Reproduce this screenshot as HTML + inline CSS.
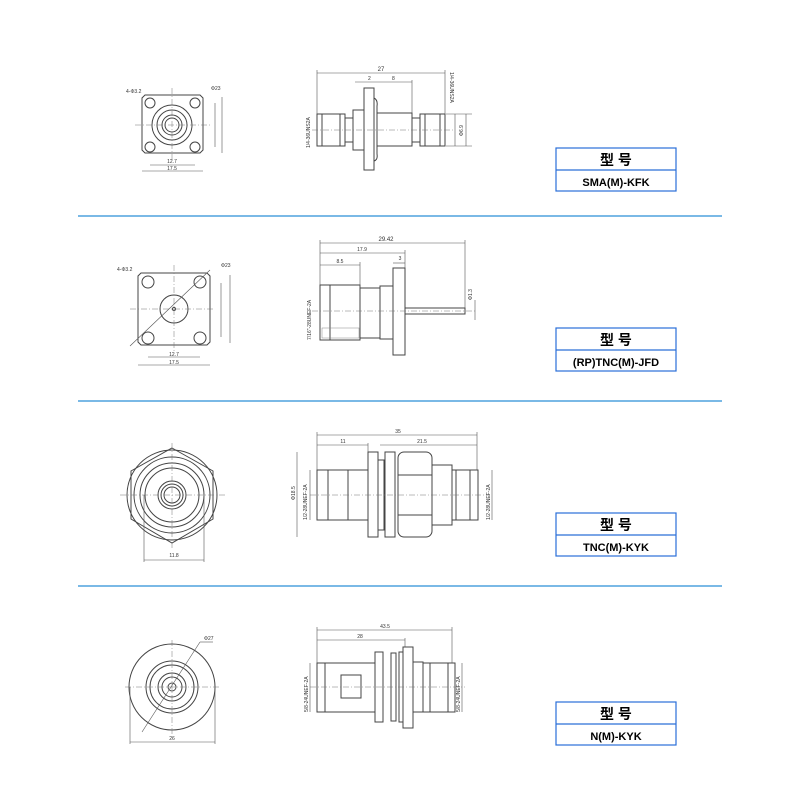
<!DOCTYPE html>
<html><head><meta charset="utf-8"><style>
html,body{margin:0;padding:0;background:#fff;}
svg{display:block}
text{font-family:"Liberation Sans",sans-serif;fill:#333;}
.b{fill:none;stroke:#444;stroke-width:1}
.t{fill:none;stroke:#555;stroke-width:0.6}
.c{stroke:#777;stroke-width:0.5;stroke-dasharray:6 2 1 2}
.tb text{font-family:"Liberation Sans","Noto Sans CJK SC",sans-serif;fill:#000;font-weight:bold}
</style></head><body>
<svg width="800" height="800" viewBox="0 0 800 800" xmlns="http://www.w3.org/2000/svg">
<g stroke="#2a8fd8" stroke-width="1.2">
<line x1="78" y1="216" x2="722" y2="216"/><line x1="78" y1="401" x2="722" y2="401"/><line x1="78" y1="586" x2="722" y2="586"/>
</g>
<!-- title boxes -->
<g class="tb">
<g fill="none" stroke="#2a6fd8" stroke-width="1.2">
<rect x="556" y="148" width="120" height="43"/><line x1="556" y1="170" x2="676" y2="170"/>
<rect x="556" y="328" width="120" height="43"/><line x1="556" y1="350" x2="676" y2="350"/>
<rect x="556" y="513" width="120" height="43"/><line x1="556" y1="535" x2="676" y2="535"/>
<rect x="556" y="702" width="120" height="43"/><line x1="556" y1="724" x2="676" y2="724"/>
</g>
<g font-size="14" text-anchor="middle">
<text x="616" y="165">型 号</text><text x="616" y="345">型 号</text><text x="616" y="530">型 号</text><text x="616" y="719">型 号</text>
</g>
<g font-size="11" text-anchor="middle">
<text x="616" y="186">SMA(M)-KFK</text><text x="616" y="366">(RP)TNC(M)-JFD</text><text x="616" y="551">TNC(M)-KYK</text><text x="616" y="740">N(M)-KYK</text>
</g>
</g>

<!-- Row1 front -->
<g>
<path class="b" d="M145 95 H200 L203 98 V150 L200 153 H145 L142 150 V98 Z"/>
<circle class="b" cx="172" cy="125" r="20"/><circle class="b" cx="172" cy="125" r="15"/><circle class="b" cx="172" cy="125" r="10"/><circle class="b" cx="172" cy="125" r="7"/>
<circle class="b" cx="150" cy="103" r="5"/><circle class="b" cx="195" cy="103" r="5"/><circle class="b" cx="150" cy="147" r="5"/><circle class="b" cx="195" cy="147" r="5"/>
<line class="c" x1="135" y1="125" x2="210" y2="125"/><line class="c" x1="172" y1="88" x2="172" y2="160"/>
<line class="t" x1="150" y1="165" x2="195" y2="165"/><line class="t" x1="142" y1="171" x2="203" y2="171"/>
<line class="t" x1="215" y1="103" x2="215" y2="147"/><line class="t" x1="222" y1="97" x2="222" y2="153"/>
<text x="172" y="163" font-size="5" text-anchor="middle">12.7</text><text x="172" y="170" font-size="5" text-anchor="middle">17.5</text>
<text x="126" y="93" font-size="5">4-Φ3.2</text><text x="211" y="90" font-size="5">Φ23</text>
</g>
<!-- Row1 side -->
<g>
<rect class="b" x="317" y="114" width="28" height="32"/><rect class="b" x="322" y="114" width="18" height="32"/>
<rect class="b" x="345" y="118" width="8" height="24"/>
<rect class="b" x="353" y="110" width="11" height="40"/>
<rect class="b" x="364" y="88" width="10" height="82"/>
<path class="b" d="M374 98 Q378 100 377 106 V154 Q378 160 374 161"/>
<rect class="b" x="377" y="113" width="35" height="33"/>
<rect class="b" x="412" y="118" width="8" height="24"/>
<rect class="b" x="420" y="114" width="25" height="32"/><rect class="b" x="425" y="114" width="15" height="32"/>
<line class="c" x1="312" y1="130" x2="455" y2="130"/>
<line class="t" x1="317" y1="73" x2="445" y2="73"/><line class="t" x1="317" y1="70" x2="317" y2="114"/><line class="t" x1="445" y1="70" x2="445" y2="114"/>
<line class="t" x1="355" y1="82" x2="412" y2="82"/><line class="t" x1="412" y1="80" x2="412" y2="113"/>
<line class="t" x1="446" y1="114" x2="472" y2="114"/><line class="t" x1="446" y1="146" x2="472" y2="146"/><line class="t" x1="455" y1="114" x2="455" y2="146"/><line class="t" x1="466" y1="114" x2="466" y2="146"/>
<text x="381" y="71" font-size="6" text-anchor="middle">27</text><text x="368" y="80" font-size="5">2</text><text x="392" y="80" font-size="5">8</text>
<text transform="translate(310,148) rotate(-90)" font-size="5">1/4-36UNS2A</text>
<text transform="translate(450,72) rotate(90)" font-size="5">1/4-36UNS2A</text>
<text transform="translate(463,136) rotate(-90)" font-size="5">Φ6.9</text>
</g>

<!-- Row2 front -->
<g>
<path class="b" d="M141 273 H207 L210 276 V342 L207 345 H141 L138 342 V276 Z"/>
<circle class="b" cx="174" cy="309" r="14"/><circle class="b" cx="174" cy="309" r="1.5"/>
<circle class="b" cx="148" cy="282" r="6"/><circle class="b" cx="200" cy="282" r="6"/><circle class="b" cx="148" cy="338" r="6"/><circle class="b" cx="200" cy="338" r="6"/>
<line class="c" x1="130" y1="309" x2="215" y2="309"/><line class="c" x1="174" y1="265" x2="174" y2="352"/>
<line class="t" x1="130" y1="346" x2="210" y2="270"/>
<line class="t" x1="148" y1="357" x2="200" y2="357"/><line class="t" x1="138" y1="365" x2="210" y2="365"/>
<line class="t" x1="221" y1="283" x2="221" y2="337"/><line class="t" x1="230" y1="275" x2="230" y2="343"/>
<text x="174" y="356" font-size="5" text-anchor="middle">12.7</text><text x="174" y="364" font-size="5" text-anchor="middle">17.5</text>
<text x="117" y="271" font-size="5">4-Φ3.2</text><text x="221" y="267" font-size="5">Φ23</text>
</g>
<!-- Row2 side -->
<g>
<rect class="b" x="320" y="285" width="40" height="55"/><line class="b" x1="330" y1="285" x2="330" y2="340"/>
<rect class="b" x="360" y="288" width="20" height="50"/><rect class="b" x="380" y="286" width="13" height="53"/>
<rect class="b" x="393" y="268" width="12" height="87"/>
<rect class="b" x="405" y="308" width="60" height="6"/>
<rect x="322" y="328" width="37" height="10" fill="none" stroke="#888" stroke-width="0.5"/>
<line class="c" x1="312" y1="311" x2="475" y2="311"/>
<line class="t" x1="320" y1="243" x2="465" y2="243"/><line class="t" x1="320" y1="253" x2="405" y2="253"/><line class="t" x1="320" y1="265" x2="360" y2="265"/><line class="t" x1="393" y1="263" x2="405" y2="263"/>
<line class="t" x1="320" y1="240" x2="320" y2="285"/><line class="t" x1="465" y1="240" x2="465" y2="308"/><line class="t" x1="360" y1="262" x2="360" y2="288"/><line class="t" x1="405" y1="250" x2="405" y2="268"/>
<line class="t" x1="475" y1="300" x2="475" y2="320"/>
<text x="386" y="241" font-size="6" text-anchor="middle">29.42</text><text x="362" y="251" font-size="5" text-anchor="middle">17.9</text><text x="340" y="263" font-size="5" text-anchor="middle">8.5</text><text x="400" y="260" font-size="5" text-anchor="middle">3</text>
<text transform="translate(311,340) rotate(-90)" font-size="5">7/16"-28UNEF-2A</text>
<text transform="translate(472,300) rotate(-90)" font-size="5">Φ1.3</text>
</g>

<!-- Row3 front -->
<g>
<circle class="b" cx="172" cy="495" r="45"/>
<polygon class="b" points="172,448 213,471 213,519 172,543 131,519 131,471"/>
<circle class="b" cx="172" cy="495" r="38"/><circle class="b" cx="172" cy="495" r="32"/><circle class="b" cx="172" cy="495" r="27"/>
<circle class="b" cx="172" cy="495" r="14"/><circle class="b" cx="172" cy="495" r="11"/><circle class="b" cx="172" cy="495" r="8"/>
<line class="c" x1="120" y1="495" x2="225" y2="495"/><line class="c" x1="172" y1="443" x2="172" y2="548"/>
<line class="t" x1="144" y1="560" x2="204" y2="560"/><line class="t" x1="144" y1="495" x2="144" y2="562"/><line class="t" x1="204" y1="495" x2="204" y2="562"/>
<text x="174" y="557" font-size="5" text-anchor="middle">11.8</text>
</g>
<!-- Row3 side -->
<g>
<rect class="b" x="317" y="470" width="51" height="50"/><rect class="b" x="328" y="470" width="20" height="50"/>
<rect class="b" x="368" y="452" width="10" height="85"/><rect class="b" x="378" y="460" width="6" height="70"/>
<rect class="b" x="385" y="452" width="10" height="85"/>
<rect class="b" x="398" y="452" width="34" height="85" rx="6"/><line class="b" x1="398" y1="475" x2="432" y2="475"/><line class="b" x1="398" y1="515" x2="432" y2="515"/>
<rect class="b" x="432" y="465" width="20" height="60"/>
<rect class="b" x="452" y="470" width="26" height="50"/><rect class="b" x="456" y="470" width="14" height="50"/>
<line class="c" x1="310" y1="495" x2="490" y2="495"/>
<line class="t" x1="317" y1="435" x2="477" y2="435"/><line class="t" x1="317" y1="445" x2="368" y2="445"/><line class="t" x1="380" y1="445" x2="477" y2="445"/>
<line class="t" x1="317" y1="432" x2="317" y2="470"/><line class="t" x1="477" y1="432" x2="477" y2="470"/><line class="t" x1="368" y1="443" x2="368" y2="452"/>
<line class="t" x1="297" y1="452" x2="297" y2="537"/><line class="t" x1="310" y1="470" x2="310" y2="520"/><line class="t" x1="492" y1="470" x2="492" y2="520"/>
<text x="398" y="433" font-size="5" text-anchor="middle">35</text><text x="343" y="443" font-size="5" text-anchor="middle">11</text><text x="422" y="443" font-size="5" text-anchor="middle">21.5</text>
<text transform="translate(295,500) rotate(-90)" font-size="5">Φ18.5</text>
<text transform="translate(307,520) rotate(-90)" font-size="5">1/2-28UNEF-2A</text>
<text transform="translate(490,520) rotate(-90)" font-size="5">1/2-28UNEF-2A</text>
</g>

<!-- Row4 front -->
<g>
<circle class="b" cx="172" cy="687" r="43"/>
<circle class="b" cx="172" cy="687" r="26"/><circle class="b" cx="172" cy="687" r="22"/><circle class="b" cx="172" cy="687" r="14"/><circle class="b" cx="172" cy="687" r="10"/><circle class="b" cx="172" cy="687" r="4"/>
<line class="c" x1="125" y1="687" x2="220" y2="687"/><line class="c" x1="172" y1="640" x2="172" y2="735"/>
<line class="t" x1="142" y1="732" x2="200" y2="642"/><line class="t" x1="200" y1="642" x2="213" y2="642"/>
<line class="t" x1="130" y1="742" x2="215" y2="742"/><line class="t" x1="130" y1="687" x2="130" y2="744"/><line class="t" x1="215" y1="687" x2="215" y2="744"/>
<text x="172" y="740" font-size="5" text-anchor="middle">26</text><text x="204" y="640" font-size="5">Φ27</text>
</g>
<!-- Row4 side -->
<g>
<rect class="b" x="317" y="663" width="58" height="49"/><line class="b" x1="325" y1="663" x2="325" y2="712"/>
<rect class="b" x="341" y="675" width="20" height="23"/>
<rect class="b" x="375" y="652" width="8" height="70"/>
<rect class="b" x="391" y="653" width="5" height="68"/>
<rect class="b" x="403" y="647" width="10" height="81"/><rect class="b" x="399" y="652" width="4" height="70"/>
<rect class="b" x="413" y="662" width="10" height="50"/>
<rect class="b" x="423" y="663" width="32" height="49"/><rect class="b" x="430" y="663" width="18" height="49"/>
<line class="c" x1="310" y1="687" x2="465" y2="687"/>
<line class="t" x1="317" y1="630" x2="452" y2="630"/><line class="t" x1="317" y1="640" x2="405" y2="640"/>
<line class="t" x1="317" y1="627" x2="317" y2="663"/><line class="t" x1="452" y1="627" x2="452" y2="663"/><line class="t" x1="405" y1="638" x2="405" y2="647"/>
<line class="t" x1="310" y1="663" x2="310" y2="712"/><line class="t" x1="462" y1="663" x2="462" y2="712"/>
<text x="385" y="628" font-size="5" text-anchor="middle">43.5</text><text x="360" y="638" font-size="5" text-anchor="middle">28</text>
<text transform="translate(308,712) rotate(-90)" font-size="5">5/8-24UNEF-2A</text>
<text transform="translate(460,712) rotate(-90)" font-size="5">5/8-24UNEF-2A</text>
</g>
</svg>
</body></html>
